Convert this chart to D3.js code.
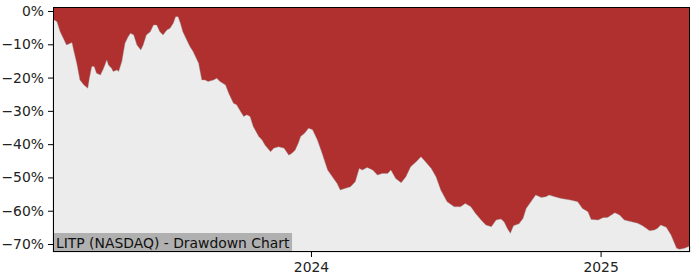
<!DOCTYPE html>
<html>
<head>
<meta charset="utf-8">
<script src="https://cdn.jsdelivr.net/npm/d3@7"></script>
<style>
  html, body { margin: 0; padding: 0; background: #fff; }
  svg { display: block; font-family: "DejaVu Sans", sans-serif; }
</style>
</head>
<body>
<svg id="chart" width="700" height="280"></svg>
<script>
// ---- data ----
const dates = [
  "2023-02-09","2023-02-14","2023-02-18","2023-02-22","2023-02-26","2023-03-03","2023-03-05","2023-03-07",
  "2023-03-11","2023-03-15","2023-03-20","2023-03-25","2023-03-27","2023-03-30","2023-04-02","2023-04-05",
  "2023-04-10","2023-04-14","2023-04-18","2023-04-20","2023-04-24","2023-04-26","2023-05-01","2023-05-03",
  "2023-05-07","2023-05-11","2023-05-15","2023-05-18","2023-05-22","2023-05-26","2023-05-31","2023-06-03",
  "2023-06-07","2023-06-12","2023-06-16","2023-06-20","2023-06-24","2023-06-28","2023-07-03","2023-07-07",
  "2023-07-11","2023-07-14","2023-07-17","2023-07-20","2023-07-23","2023-07-28","2023-08-01","2023-08-05",
  "2023-08-12","2023-08-16","2023-08-20","2023-08-24","2023-08-31","2023-09-04","2023-09-08","2023-09-15",
  "2023-09-19","2023-09-25","2023-09-29","2023-10-04","2023-10-08","2023-10-12","2023-10-16","2023-10-20",
  "2023-10-27","2023-10-31","2023-11-04","2023-11-11","2023-11-15","2023-11-21","2023-11-28","2023-12-04",
  "2023-12-08","2023-12-12","2023-12-16","2023-12-19","2023-12-24","2023-12-29","2024-01-03","2024-01-09",
  "2024-01-15","2024-01-22","2024-01-28","2024-02-03","2024-02-07","2024-02-13","2024-02-20","2024-02-26",
  "2024-03-02","2024-03-06","2024-03-12","2024-03-19","2024-03-25","2024-03-31","2024-04-07","2024-04-11",
  "2024-04-17","2024-04-24","2024-04-30","2024-05-06","2024-05-13","2024-05-19","2024-05-23","2024-06-01",
  "2024-06-07","2024-06-13","2024-06-21","2024-06-30","2024-07-08","2024-07-14","2024-07-21","2024-07-27",
  "2024-08-03","2024-08-09","2024-08-16","2024-08-22","2024-08-28","2024-09-01","2024-09-05","2024-09-09",
  "2024-09-13","2024-09-20","2024-09-25","2024-09-29","2024-10-05","2024-10-11","2024-10-18","2024-10-24",
  "2024-10-28","2024-11-04","2024-11-12","2024-11-24","2024-12-03","2024-12-09","2024-12-16","2024-12-20",
  "2024-12-29","2025-01-04","2025-01-10","2025-01-19","2025-01-25","2025-01-31","2025-02-09","2025-02-17",
  "2025-02-23","2025-03-04","2025-03-10","2025-03-14","2025-03-18","2025-03-25","2025-03-31","2025-04-07",
  "2025-04-11","2025-04-17","2025-04-24"
];
const drawdown = [
  -2.5,-3.2,-6.2,-8.2,-10.2,-9.7,-9.5,-11.7,
  -15.7,-20.7,-22.2,-23.2,-20.2,-16.7,-16.7,-18.7,
  -19.2,-17.2,-14.7,-16.2,-17.2,-18.2,-17.7,-18.2,
  -15.2,-9.7,-7.7,-6.7,-7.2,-10.2,-11.7,-10.2,
  -7.2,-6.2,-4.2,-4.2,-6.2,-7.2,-5.7,-5.2,
  -3.7,-1.7,-1.7,-3.7,-6.2,-8.7,-10.7,-12.2,
  -15.7,-20.7,-20.7,-21.2,-20.7,-20.2,-21.2,-22.2,
  -24.7,-27.7,-28.2,-30.2,-31.7,-31.2,-31.7,-34.7,
  -37.7,-38.7,-40.3,-42.3,-41.2,-40.8,-41.2,-43.3,
  -42.7,-41.8,-39.7,-37.7,-36.7,-35.2,-35.7,-38.7,
  -42.7,-47.8,-49.8,-51.8,-53.8,-53.3,-52.8,-51.3,
  -47.3,-47.8,-47.0,-47.8,-49.3,-48.8,-48.8,-47.8,
  -50.3,-51.6,-49.8,-46.8,-45.3,-43.8,-44.8,-47.3,
  -49.8,-53.8,-57.3,-58.8,-58.8,-57.8,-58.8,-60.8,
  -62.8,-64.3,-64.8,-62.8,-62.5,-63.3,-65.3,-66.8,
  -64.5,-63.9,-62.3,-59.3,-57.3,-55.3,-56.0,-55.8,
  -55.3,-55.8,-56.3,-56.8,-57.3,-59.3,-60.3,-62.6,
  -62.8,-62.1,-62.0,-60.6,-61.3,-62.8,-63.3,-63.8,
  -64.5,-66.0,-65.8,-65.3,-64.3,-65.0,-67.3,-71.3,
  -71.6,-71.3,-70.6
];
const yTicks = [0, -10, -20, -30, -40, -50, -60, -70];
const yTickLabels = ["0%", "\u221210%", "\u221220%", "\u221230%", "\u221240%", "\u221250%", "\u221260%", "\u221270%"];
const xTicks = ["2024-01-01", "2025-01-01"];
const xTickLabels = ["2024", "2025"];
const title = "LITP (NASDAQ) - Drawdown Chart";

// ---- layout ----
const W = 700, H = 280;
const m = { left: 53, right: 10, top: 7, bottom: 28 };
const FS = 13.9;
const parse = d3.timeParse("%Y-%m-%d");
const data = dates.map((d, i) => ({ date: parse(d), v: drawdown[i] }));

const x = d3.scaleTime()
  .domain(d3.extent(data, d => d.date))
  .range([m.left, W - m.right]);
const y = d3.scaleLinear()
  .domain([-72.4, 1.2])
  .range([H - m.bottom, m.top]);

const svg = d3.select("#chart");

// red background (drawdown region)
svg.append("rect")
  .attr("x", m.left).attr("y", m.top)
  .attr("width", W - m.left - m.right)
  .attr("height", H - m.top - m.bottom)
  .attr("fill", "#b03030");

// light gray area below the curve
const area = d3.area()
  .x(d => x(d.date))
  .y0(H - m.bottom)
  .y1(d => y(d.v));
svg.append("path")
  .datum(data)
  .attr("d", area)
  .attr("fill", "#ececec")
  .attr("stroke", "#999")
  .attr("stroke-width", 0.4);

// label box
const label = svg.append("g");
const txt = label.append("text")
  .attr("x", m.left + 3)
  .attr("y", H - m.bottom - 4)
  .attr("font-size", FS)
  .attr("fill", "#111")
  .text(title);
const bb = txt.node().getBBox();
label.insert("rect", "text")
  .attr("x", m.left)
  .attr("y", 233)
  .attr("width", bb.x + bb.width + 2 - m.left)
  .attr("height", (H - m.bottom) - 233)
  .attr("fill", "#b0b0b0");

// axes
const yAxis = d3.axisLeft(y)
  .tickValues(yTicks)
  .tickFormat((d, i) => yTickLabels[i])
  .tickSize(5)
  .tickPadding(4);
const gy = svg.append("g")
  .attr("transform", `translate(${m.left},0)`)
  .call(yAxis);
gy.select(".domain").remove();
gy.selectAll("text").attr("font-size", FS).attr("fill", "#222").attr("font-family", "DejaVu Sans");
gy.selectAll("line").attr("stroke", "#000");

const xAxis = d3.axisBottom(x)
  .tickValues(xTicks.map(parse))
  .tickFormat((d, i) => xTickLabels[i])
  .tickSize(5)
  .tickPadding(5);
const gx = svg.append("g")
  .attr("transform", `translate(0,${H - m.bottom})`)
  .call(xAxis);
gx.select(".domain").remove();
gx.selectAll("text").attr("font-size", FS).attr("fill", "#222").attr("font-family", "DejaVu Sans");
gx.selectAll("line").attr("stroke", "#000");

// frame
svg.append("rect")
  .attr("x", m.left + 0.5).attr("y", m.top + 0.5)
  .attr("width", W - m.left - m.right - 1)
  .attr("height", H - m.top - m.bottom - 1)
  .attr("fill", "none")
  .attr("stroke", "#000")
  .attr("stroke-width", 1);
</script>
</body>
</html>
